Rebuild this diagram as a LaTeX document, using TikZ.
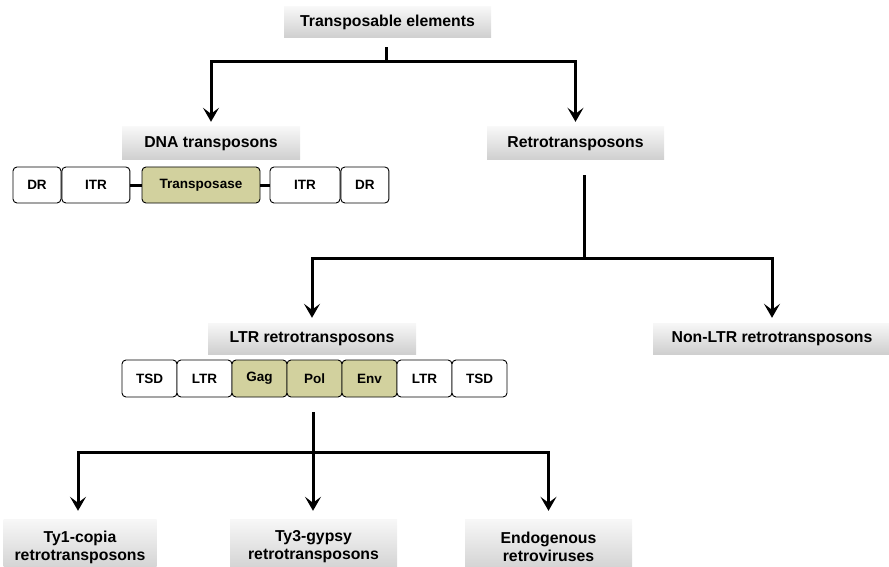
\documentclass[tikz,border=0pt]{standalone}
\usepackage{fontspec}
\setmainfont{Liberation Sans}
\usepackage{xcolor}
\usetikzlibrary{arrows.meta,positioning}
\definecolor{gene}{RGB}{210,209,158}

\begin{document}
\begin{tikzpicture}[x=1pt,y=-1pt,
  box/.style={shade,top color=gray!6,bottom color=gray!38,inner sep=0pt,minimum height=31,font=\fontsize{15.8}{18}\selectfont\bfseries},
  cell/.style={draw,fill=white,rounded corners=4,line width=0.9,inner sep=0pt,minimum height=36,font=\fontsize{13.5}{15}\selectfont\bfseries},
  link/.style={line width=3},
  arr/.style={line width=3,-{Stealth[length=14pt,width=16pt,inset=6pt]}}]
  \path[use as bounding box,clip] (0,0) rectangle (889,567);

  % categories
  \node[box,minimum width=207] (te) at (387.5,22.5) {Transposable elements};
  \node[box,minimum width=178,minimum height=33] (dna) at (211,143.5) {DNA transposons};
  \node[box,minimum width=177,minimum height=33] (retro) at (575.5,143.5) {Retrotransposons};
  \node[box,minimum width=208] (ltr) at (312,338.5) {LTR retrotransposons};
  \node[box,minimum width=238] (nonltr) at (772,338.5) {Non-LTR retrotransposons};
  \node[box,minimum width=153,minimum height=56,align=center] (ty1) at (80,547) {Ty1-copia\\retrotransposons};
  \node[box,minimum width=167,minimum height=56,align=center] (ty3) at (313.5,547) {Ty3-gypsy\\retrotransposons};
  \node[box,minimum width=167,minimum height=56,align=center] (erv) at (548.5,547) {Endogenous\\retroviruses};

  % DNA transposon structure
  \node[cell,minimum width=48] (dr1) at (37,185) {DR};
  \node[cell,minimum width=68,right=0pt of dr1] (itr1) {ITR};
  \node[cell,fill=gene,minimum width=118] (tp) at (201,185) {Transposase};
  \node[cell,minimum width=70] (itr2) at (305,185) {ITR};
  \node[cell,minimum width=48,right=0pt of itr2] (dr2) {DR};
  \draw[link] (itr1) -- (tp);
  \draw[link] (tp) -- (itr2);

  % LTR retrotransposon structure
  \foreach \lab/\fc [count=\i] in {TSD/white,LTR/white,Gag/gene,Pol/gene,Env/gene,LTR/white,TSD/white}
    \node[cell,fill=\fc,minimum width=55,minimum height=37] (l\i) at ({94.5+55*\i},378.5) {\lab};

  % branches
  \coordinate (j1) at (386,62);
  \coordinate (j2) at (584,258);
  \coordinate (j3) at (313,452);
  \draw[link,shorten <=9pt] (te.south -| j1) -- (j1);
  \draw[arr,shorten >=5pt] (j1) -| (dna.north);
  \draw[arr,shorten >=5pt] (j1) -| (retro.north);
  \draw[link,shorten <=15pt] (retro.south -| j2) -- (j2);
  \draw[arr,shorten >=5pt] (j2) -| (ltr.north);
  \draw[arr,shorten >=5pt] (j2) -| (nonltr.north);
  \draw[link,shorten <=15pt] (l4.south -| j3) -- (j3);
  \draw[arr,shorten >=8pt] (j3) -| ([xshift=-2]ty1.north);
  \draw[arr,shorten >=8pt] (j3) -- (ty3.north -| j3);
  \draw[arr,shorten >=8pt] (j3) -| (erv.north);
\end{tikzpicture}
\end{document}
